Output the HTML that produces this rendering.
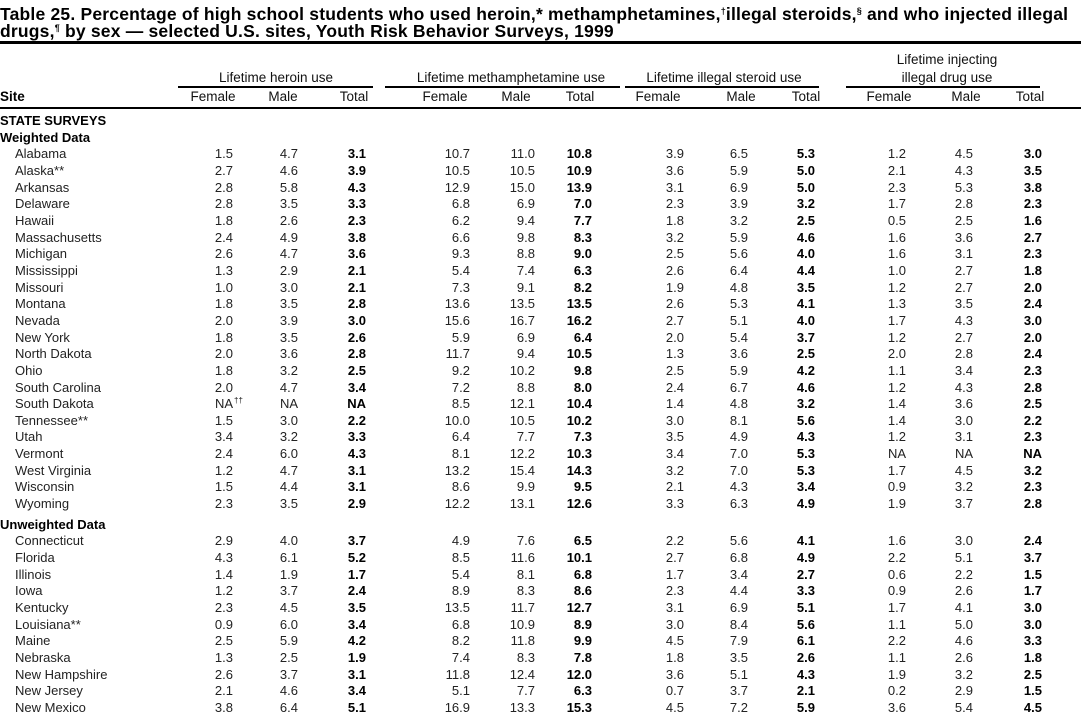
<!DOCTYPE html>
<html><head><meta charset="utf-8">
<style>
*{margin:0;padding:0;box-sizing:border-box}
body{width:1081px;height:717px;background:#fff;position:relative;overflow:hidden;font-family:"Liberation Sans",Arial,sans-serif;color:#222;font-size:13px}
.t{position:absolute;left:0;font-weight:bold;font-size:17.5px;line-height:18px;color:#000;white-space:nowrap;letter-spacing:0.2px}
.t sup{position:static;font-size:9px;vertical-align:6px;line-height:0}
.r{position:absolute;background:#000}
.h{position:absolute;font-size:13.5px;color:#111;white-space:nowrap;transform:translateX(-50%)}
table{position:absolute;left:0;top:113px;border-collapse:collapse;table-layout:fixed;width:1081px}
td{height:16.65px;line-height:16.65px;padding:0;text-align:right;white-space:nowrap;position:relative}
td:first-child{text-align:left;padding-left:15px}
td.b{font-weight:bold;color:#000}
tr.s td:first-child{padding-left:0;font-weight:bold;color:#000}
tr.u td{height:20.6px;line-height:16.6px;padding-top:4px;vertical-align:top}
td sup{position:absolute;font-size:8px;top:-3px;left:100%;margin-left:1px}
</style></head><body>
<div class="t" style="top:5px">Table 25. Percentage of high school students who used heroin,* methamphetamines,<sup>†</sup>illegal steroids,<sup>§</sup> and who injected illegal</div>
<div class="t" style="top:22px">drugs,<sup>¶</sup> by sex — selected U.S. sites, Youth Risk Behavior Surveys, 1999</div>
<div class="r" style="left:0;top:41px;width:1081px;height:3px"></div>

<div class="h" style="left:276px;top:70px">Lifetime heroin use</div>
<div class="h" style="left:511px;top:70px">Lifetime methamphetamine use</div>
<div class="h" style="left:724px;top:70px">Lifetime illegal steroid use</div>
<div class="h" style="left:947px;top:52px">Lifetime injecting</div>
<div class="h" style="left:947px;top:70px">illegal drug use</div>
<div class="r" style="left:178px;top:86px;width:195px;height:2px"></div>
<div class="r" style="left:385px;top:86px;width:235px;height:2px"></div>
<div class="r" style="left:625px;top:86px;width:194px;height:2px"></div>
<div class="r" style="left:846px;top:86px;width:194px;height:2px"></div>

<div style="position:absolute;left:0;top:89px;font-size:13.5px;font-weight:bold;color:#000">Site</div>
<div class="h" style="left:213px;top:89px">Female</div>
<div class="h" style="left:283px;top:89px">Male</div>
<div class="h" style="left:354px;top:89px">Total</div>
<div class="h" style="left:445px;top:89px">Female</div>
<div class="h" style="left:516px;top:89px">Male</div>
<div class="h" style="left:580px;top:89px">Total</div>
<div class="h" style="left:658px;top:89px">Female</div>
<div class="h" style="left:741px;top:89px">Male</div>
<div class="h" style="left:806px;top:89px">Total</div>
<div class="h" style="left:889px;top:89px">Female</div>
<div class="h" style="left:966px;top:89px">Male</div>
<div class="h" style="left:1030px;top:89px">Total</div>
<div class="r" style="left:0;top:107px;width:1081px;height:2px"></div>

<table>
<colgroup><col style="width:180px"><col style="width:53px"><col style="width:65px"><col style="width:68px"><col style="width:104px"><col style="width:65px"><col style="width:57px"><col style="width:92px"><col style="width:64px"><col style="width:67px"><col style="width:91px"><col style="width:67px"><col style="width:69px"><col style="width:39px"></colgroup>
<tr class="s"><td>STATE SURVEYS</td><td></td><td></td><td></td><td></td><td></td><td></td><td></td><td></td><td></td><td></td><td></td><td></td><td></td></tr>
<tr class="s"><td>Weighted Data</td><td></td><td></td><td></td><td></td><td></td><td></td><td></td><td></td><td></td><td></td><td></td><td></td><td></td></tr>
<tr><td>Alabama</td><td>1.5</td><td>4.7</td><td class="b">3.1</td><td>10.7</td><td>11.0</td><td class="b">10.8</td><td>3.9</td><td>6.5</td><td class="b">5.3</td><td>1.2</td><td>4.5</td><td class="b">3.0</td><td></td></tr>
<tr><td>Alaska**</td><td>2.7</td><td>4.6</td><td class="b">3.9</td><td>10.5</td><td>10.5</td><td class="b">10.9</td><td>3.6</td><td>5.9</td><td class="b">5.0</td><td>2.1</td><td>4.3</td><td class="b">3.5</td><td></td></tr>
<tr><td>Arkansas</td><td>2.8</td><td>5.8</td><td class="b">4.3</td><td>12.9</td><td>15.0</td><td class="b">13.9</td><td>3.1</td><td>6.9</td><td class="b">5.0</td><td>2.3</td><td>5.3</td><td class="b">3.8</td><td></td></tr>
<tr><td>Delaware</td><td>2.8</td><td>3.5</td><td class="b">3.3</td><td>6.8</td><td>6.9</td><td class="b">7.0</td><td>2.3</td><td>3.9</td><td class="b">3.2</td><td>1.7</td><td>2.8</td><td class="b">2.3</td><td></td></tr>
<tr><td>Hawaii</td><td>1.8</td><td>2.6</td><td class="b">2.3</td><td>6.2</td><td>9.4</td><td class="b">7.7</td><td>1.8</td><td>3.2</td><td class="b">2.5</td><td>0.5</td><td>2.5</td><td class="b">1.6</td><td></td></tr>
<tr><td>Massachusetts</td><td>2.4</td><td>4.9</td><td class="b">3.8</td><td>6.6</td><td>9.8</td><td class="b">8.3</td><td>3.2</td><td>5.9</td><td class="b">4.6</td><td>1.6</td><td>3.6</td><td class="b">2.7</td><td></td></tr>
<tr><td>Michigan</td><td>2.6</td><td>4.7</td><td class="b">3.6</td><td>9.3</td><td>8.8</td><td class="b">9.0</td><td>2.5</td><td>5.6</td><td class="b">4.0</td><td>1.6</td><td>3.1</td><td class="b">2.3</td><td></td></tr>
<tr><td>Mississippi</td><td>1.3</td><td>2.9</td><td class="b">2.1</td><td>5.4</td><td>7.4</td><td class="b">6.3</td><td>2.6</td><td>6.4</td><td class="b">4.4</td><td>1.0</td><td>2.7</td><td class="b">1.8</td><td></td></tr>
<tr><td>Missouri</td><td>1.0</td><td>3.0</td><td class="b">2.1</td><td>7.3</td><td>9.1</td><td class="b">8.2</td><td>1.9</td><td>4.8</td><td class="b">3.5</td><td>1.2</td><td>2.7</td><td class="b">2.0</td><td></td></tr>
<tr><td>Montana</td><td>1.8</td><td>3.5</td><td class="b">2.8</td><td>13.6</td><td>13.5</td><td class="b">13.5</td><td>2.6</td><td>5.3</td><td class="b">4.1</td><td>1.3</td><td>3.5</td><td class="b">2.4</td><td></td></tr>
<tr><td>Nevada</td><td>2.0</td><td>3.9</td><td class="b">3.0</td><td>15.6</td><td>16.7</td><td class="b">16.2</td><td>2.7</td><td>5.1</td><td class="b">4.0</td><td>1.7</td><td>4.3</td><td class="b">3.0</td><td></td></tr>
<tr><td>New York</td><td>1.8</td><td>3.5</td><td class="b">2.6</td><td>5.9</td><td>6.9</td><td class="b">6.4</td><td>2.0</td><td>5.4</td><td class="b">3.7</td><td>1.2</td><td>2.7</td><td class="b">2.0</td><td></td></tr>
<tr><td>North Dakota</td><td>2.0</td><td>3.6</td><td class="b">2.8</td><td>11.7</td><td>9.4</td><td class="b">10.5</td><td>1.3</td><td>3.6</td><td class="b">2.5</td><td>2.0</td><td>2.8</td><td class="b">2.4</td><td></td></tr>
<tr><td>Ohio</td><td>1.8</td><td>3.2</td><td class="b">2.5</td><td>9.2</td><td>10.2</td><td class="b">9.8</td><td>2.5</td><td>5.9</td><td class="b">4.2</td><td>1.1</td><td>3.4</td><td class="b">2.3</td><td></td></tr>
<tr><td>South Carolina</td><td>2.0</td><td>4.7</td><td class="b">3.4</td><td>7.2</td><td>8.8</td><td class="b">8.0</td><td>2.4</td><td>6.7</td><td class="b">4.6</td><td>1.2</td><td>4.3</td><td class="b">2.8</td><td></td></tr>
<tr><td>South Dakota</td><td>NA<sup>††</sup></td><td>NA</td><td class="b">NA</td><td>8.5</td><td>12.1</td><td class="b">10.4</td><td>1.4</td><td>4.8</td><td class="b">3.2</td><td>1.4</td><td>3.6</td><td class="b">2.5</td><td></td></tr>
<tr><td>Tennessee**</td><td>1.5</td><td>3.0</td><td class="b">2.2</td><td>10.0</td><td>10.5</td><td class="b">10.2</td><td>3.0</td><td>8.1</td><td class="b">5.6</td><td>1.4</td><td>3.0</td><td class="b">2.2</td><td></td></tr>
<tr><td>Utah</td><td>3.4</td><td>3.2</td><td class="b">3.3</td><td>6.4</td><td>7.7</td><td class="b">7.3</td><td>3.5</td><td>4.9</td><td class="b">4.3</td><td>1.2</td><td>3.1</td><td class="b">2.3</td><td></td></tr>
<tr><td>Vermont</td><td>2.4</td><td>6.0</td><td class="b">4.3</td><td>8.1</td><td>12.2</td><td class="b">10.3</td><td>3.4</td><td>7.0</td><td class="b">5.3</td><td>NA</td><td>NA</td><td class="b">NA</td><td></td></tr>
<tr><td>West Virginia</td><td>1.2</td><td>4.7</td><td class="b">3.1</td><td>13.2</td><td>15.4</td><td class="b">14.3</td><td>3.2</td><td>7.0</td><td class="b">5.3</td><td>1.7</td><td>4.5</td><td class="b">3.2</td><td></td></tr>
<tr><td>Wisconsin</td><td>1.5</td><td>4.4</td><td class="b">3.1</td><td>8.6</td><td>9.9</td><td class="b">9.5</td><td>2.1</td><td>4.3</td><td class="b">3.4</td><td>0.9</td><td>3.2</td><td class="b">2.3</td><td></td></tr>
<tr><td>Wyoming</td><td>2.3</td><td>3.5</td><td class="b">2.9</td><td>12.2</td><td>13.1</td><td class="b">12.6</td><td>3.3</td><td>6.3</td><td class="b">4.9</td><td>1.9</td><td>3.7</td><td class="b">2.8</td><td></td></tr>
<tr class="s u"><td>Unweighted Data</td><td></td><td></td><td></td><td></td><td></td><td></td><td></td><td></td><td></td><td></td><td></td><td></td><td></td></tr>
<tr><td>Connecticut</td><td>2.9</td><td>4.0</td><td class="b">3.7</td><td>4.9</td><td>7.6</td><td class="b">6.5</td><td>2.2</td><td>5.6</td><td class="b">4.1</td><td>1.6</td><td>3.0</td><td class="b">2.4</td><td></td></tr>
<tr><td>Florida</td><td>4.3</td><td>6.1</td><td class="b">5.2</td><td>8.5</td><td>11.6</td><td class="b">10.1</td><td>2.7</td><td>6.8</td><td class="b">4.9</td><td>2.2</td><td>5.1</td><td class="b">3.7</td><td></td></tr>
<tr><td>Illinois</td><td>1.4</td><td>1.9</td><td class="b">1.7</td><td>5.4</td><td>8.1</td><td class="b">6.8</td><td>1.7</td><td>3.4</td><td class="b">2.7</td><td>0.6</td><td>2.2</td><td class="b">1.5</td><td></td></tr>
<tr><td>Iowa</td><td>1.2</td><td>3.7</td><td class="b">2.4</td><td>8.9</td><td>8.3</td><td class="b">8.6</td><td>2.3</td><td>4.4</td><td class="b">3.3</td><td>0.9</td><td>2.6</td><td class="b">1.7</td><td></td></tr>
<tr><td>Kentucky</td><td>2.3</td><td>4.5</td><td class="b">3.5</td><td>13.5</td><td>11.7</td><td class="b">12.7</td><td>3.1</td><td>6.9</td><td class="b">5.1</td><td>1.7</td><td>4.1</td><td class="b">3.0</td><td></td></tr>
<tr><td>Louisiana**</td><td>0.9</td><td>6.0</td><td class="b">3.4</td><td>6.8</td><td>10.9</td><td class="b">8.9</td><td>3.0</td><td>8.4</td><td class="b">5.6</td><td>1.1</td><td>5.0</td><td class="b">3.0</td><td></td></tr>
<tr><td>Maine</td><td>2.5</td><td>5.9</td><td class="b">4.2</td><td>8.2</td><td>11.8</td><td class="b">9.9</td><td>4.5</td><td>7.9</td><td class="b">6.1</td><td>2.2</td><td>4.6</td><td class="b">3.3</td><td></td></tr>
<tr><td>Nebraska</td><td>1.3</td><td>2.5</td><td class="b">1.9</td><td>7.4</td><td>8.3</td><td class="b">7.8</td><td>1.8</td><td>3.5</td><td class="b">2.6</td><td>1.1</td><td>2.6</td><td class="b">1.8</td><td></td></tr>
<tr><td>New Hampshire</td><td>2.6</td><td>3.7</td><td class="b">3.1</td><td>11.8</td><td>12.4</td><td class="b">12.0</td><td>3.6</td><td>5.1</td><td class="b">4.3</td><td>1.9</td><td>3.2</td><td class="b">2.5</td><td></td></tr>
<tr><td>New Jersey</td><td>2.1</td><td>4.6</td><td class="b">3.4</td><td>5.1</td><td>7.7</td><td class="b">6.3</td><td>0.7</td><td>3.7</td><td class="b">2.1</td><td>0.2</td><td>2.9</td><td class="b">1.5</td><td></td></tr>
<tr><td>New Mexico</td><td>3.8</td><td>6.4</td><td class="b">5.1</td><td>16.9</td><td>13.3</td><td class="b">15.3</td><td>4.5</td><td>7.2</td><td class="b">5.9</td><td>3.6</td><td>5.4</td><td class="b">4.5</td><td></td></tr>
</table>
</body></html>
